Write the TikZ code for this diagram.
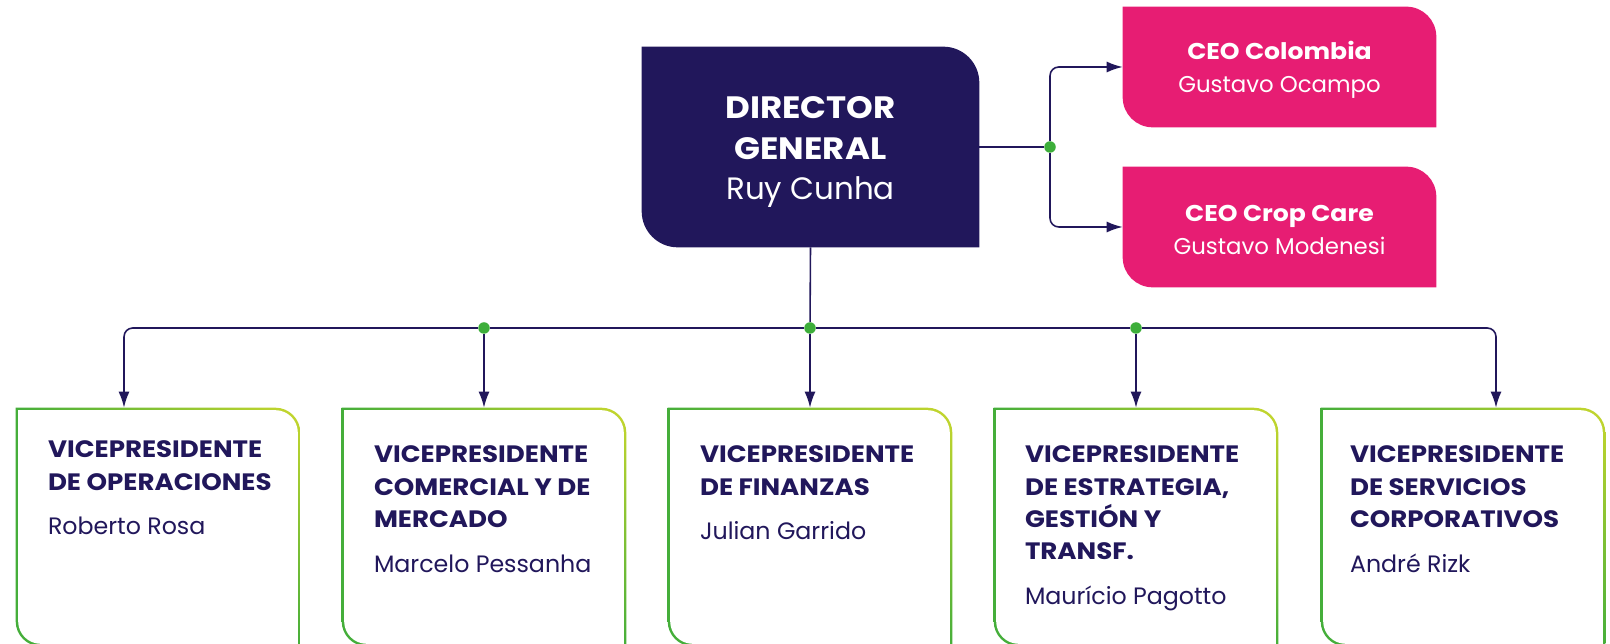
\documentclass[tikz,border=0pt]{standalone}
\usepackage{fontspec}
\setmainfont{Poppins}[BoldFeatures={FakeStretch=1.1}]
\usepackage{xcolor}
\usepackage{tikz}
\usetikzlibrary{arrows.meta,positioning,shadings}

\definecolor{navy}{HTML}{21175B}
\definecolor{magenta}{HTML}{E71D73}
\definecolor{leafgreen}{HTML}{45AE3A}
\definecolor{leafyellow}{HTML}{C8D72D}
\definecolor{dotgreen}{HTML}{3DAE3A}

\begin{document}
\begin{tikzpicture}[x=0.02cm, y=0.02cm,
    vpbox/.style={minimum width=5.68cm, minimum height=4.76cm, inner sep=0},
    vptext/.style={anchor=north west, inner sep=0, align=left, text=navy,
        font=\fontsize{13.5}{18.3}\selectfont\bfseries},
    link/.style={draw=navy, line width=0.9pt},
    arr/.style={link, -{Latex[length=0.32cm, width=0.22cm]}},
    dot/.style={circle, fill=dotgreen, inner sep=0, minimum size=0.23cm}]
    \useasboundingbox (0,0) rectangle (1610,-644);

    % top boxes
    \node[minimum width=6.74cm, minimum height=4cm, inner sep=0] (dir) at (810.5,-147) {};
    \node[minimum width=6.26cm, minimum height=2.4cm, inner sep=0] (ceoa) at (1279.5,-67) {};
    \node[minimum width=6.26cm, minimum height=2.4cm, inner sep=0] (ceob) at (1279.5,-227) {};

    \fill[navy] (dir.north west) -- ([shift={(-36,0)}]dir.north east) arc[start angle=90, end angle=0, radius=36]
        -- (dir.south east) -- ([shift={(36,0)}]dir.south west) arc[start angle=270, end angle=180, radius=36] -- cycle;
    \foreach \c in {ceoa,ceob}
        \fill[magenta] (\c.north west) -- ([shift={(-30,0)}]\c.north east) arc[start angle=90, end angle=0, radius=30]
            -- (\c.south east) -- ([shift={(30,0)}]\c.south west) arc[start angle=270, end angle=180, radius=30] -- cycle;

    \node[text=white, align=center, font=\fontsize{17.6}{22.8}\selectfont] (dirt) at ([shift={(0,-5)}]dir.center)
        {\bfseries DIRECTOR\\\bfseries GENERAL\\Ruy Cunha};
    \node[text=white, align=center, font=\fontsize{13}{18.8}\selectfont] (ceoat) at ([shift={(0,-3)}]ceoa.center)
        {\bfseries CEO Colombia\\Gustavo Ocampo};
    \node[text=white, align=center, font=\fontsize{13}{18.8}\selectfont] (ceobt) at ([shift={(0,-3)}]ceob.center)
        {\bfseries CEO Crop Care\\Gustavo Modenesi};

    % vicepresidents
    \node[vpbox] (v1) at (158,-527) {};
    \node[vpbox] (v2) at (484,-527) {};
    \node[vpbox] (v3) at (810,-527) {};
    \node[vpbox] (v4) at (1136,-527) {};
    \node[vpbox] (v5) at (1463,-527) {};
    \foreach \b in {v1,v2,v3,v4,v5} {
        \shade[upper left=leafgreen, lower left=leafgreen, lower right=leafgreen, upper right=leafyellow]
            (\b.north west) -- ([shift={(-25,0)}]\b.north east) arc[start angle=90, end angle=0, radius=25]
            -- (\b.south east) -- ([shift={(25,0)}]\b.south west) arc[start angle=270, end angle=180, radius=25] -- cycle;
        \fill[white] ([shift={(2.5,-2.5)}]\b.north west) -- ([shift={(-25,-2.5)}]\b.north east)
            arc[start angle=90, end angle=0, radius=22.5] -- ([shift={(-2.5,2.5)}]\b.south east)
            -- ([shift={(25,2.5)}]\b.south west) arc[start angle=270, end angle=180, radius=22.5] -- cycle;
    }

    \node[vptext] (v1t) at ([shift={(32,-33)}]v1.north west)
        {VICEPRESIDENTE\\DE OPERACIONES\\[7.2pt]\mdseries Roberto Rosa};
    \node[vptext] (v2t) at ([shift={(32,-38)}]v2.north west)
        {VICEPRESIDENTE\\COMERCIAL Y DE\\MERCADO\\[7.2pt]\mdseries Marcelo Pessanha};
    \node[vptext] (v3t) at ([shift={(32,-38)}]v3.north west)
        {VICEPRESIDENTE\\DE FINANZAS\\[7.2pt]\mdseries Julian Garrido};
    \node[vptext] (v4t) at ([shift={(31,-38)}]v4.north west)
        {VICEPRESIDENTE\\DE ESTRATEGIA,\\GESTIÓN Y\\TRANSF.\\[7.2pt]\mdseries Maurício Pagotto};
    \node[vptext] (v5t) at ([shift={(29,-38)}]v5.north west)
        {VICEPRESIDENTE\\DE SERVICIOS\\CORPORATIVOS\\[7.2pt]\mdseries André Rizk};

    % junctions
    \node[dot] (j1) at (1050,-147) {};
    \node[dot] (j2) at (484,-328) {};
    \node[dot] (j3) at (810,-328) {};
    \node[dot] (j4) at (1136,-328) {};

    % connectors
    \draw[link] (dir.east) -- (j1);
    \draw[arr, rounded corners=5] (j1) |- (ceoa.west);
    \draw[arr, rounded corners=5] (j1) |- (ceob.west);
    \draw[link] (dir.south) -- (j3);
    \draw[link] (j2) -- (j3);
    \draw[link] (j3) -- (j4);
    \draw[arr, rounded corners=5] (j2) -| ([shift={(-34,0)}]v1.north);
    \draw[arr, rounded corners=5] (j4) -| ([shift={(33,0)}]v5.north);
    \draw[arr] (j2) -- (v2.north);
    \draw[arr] (j3) -- (v3.north);
    \draw[arr] (j4) -- (v4.north);
\end{tikzpicture}
\end{document}
